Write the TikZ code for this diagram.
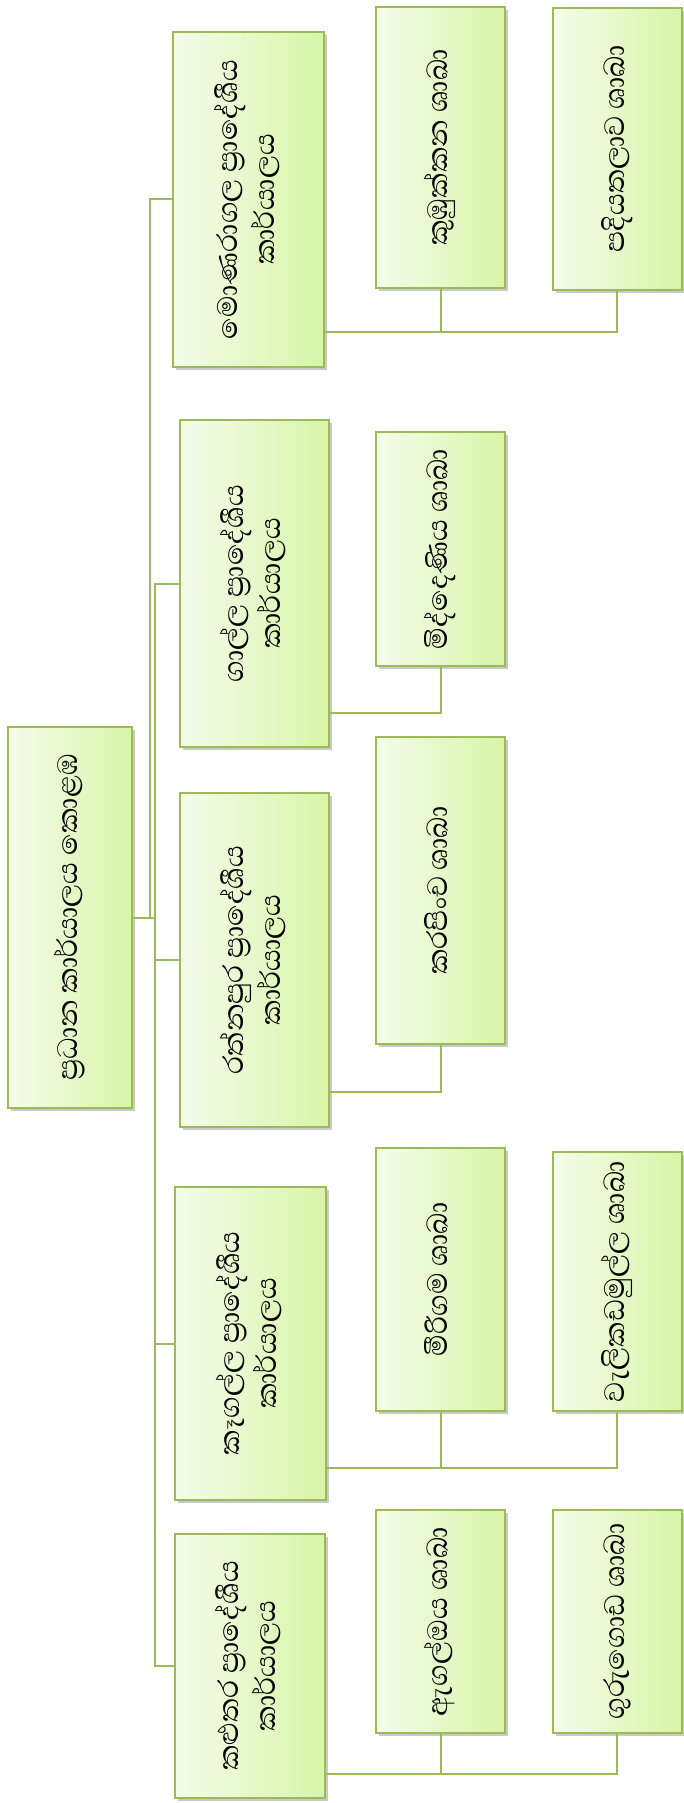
\documentclass[tikz,border=0pt]{standalone}
\usepackage{fontspec}
\newfontfamily\sinhala[Script=Sinhala]{Abhaya Libre}
\usetikzlibrary{shadows}
\definecolor{leafgreen}{RGB}{155,187,89}
\definecolor{paleleft}{RGB}{244,252,235}
\definecolor{paleright}{RGB}{216,245,168}
\tikzset{
  office/.style={draw=leafgreen, line width=2pt, left color=paleleft,
    right color=paleright, inner sep=0pt,
    drop shadow={shadow xshift=3pt, shadow yshift=-3pt, opacity=0.35, fill=black!60},
    font=\sinhala\fontsize{36}{37}\selectfont},
  link/.style={draw=leafgreen, line width=2pt}
}
\newcommand{\sidetext}[1]{\rotatebox{90}{\begin{tabular}{@{}c@{}}#1\end{tabular}}}
\begin{document}
\begin{tikzpicture}[x=1pt, y=-1pt]
  \useasboundingbox (0,0) rectangle (683,1803);
  \pgfmathsetmacro{\colA}{440.5}
  \pgfmathsetmacro{\colB}{617}
  \pgfmathsetmacro{\leafw}{129}
  \node[office, minimum width=124pt, minimum height=381pt] (head)
       at (70, 917.5) {\sidetext{ප්‍රධාන කාර්යාලය කොළඹ}};
  \node[office, minimum width=151pt, minimum height=335pt] (mon)
       at (248.5, 199.5) {\sidetext{මොණරාගල ප්‍රාදේශීය\\කාර්යාලය}};
  \node[office, minimum width=149pt, minimum height=327pt] (gal)
       at (254.5, 583.5) {\sidetext{ගාල්ල ප්‍රාදේශීය\\කාර්යාලය}};
  \node[office, minimum width=149pt, minimum height=334pt] (rat)
       at (254.5, 960) {\sidetext{රත්නපුර ප්‍රාදේශීය\\කාර්යාලය}};
  \node[office, minimum width=151pt, minimum height=313pt] (keg)
       at (250.5, 1343.5) {\sidetext{කෑගල්ල ප්‍රාදේශීය\\කාර්යාලය}};
  \node[office, minimum width=150pt, minimum height=264pt] (kal)
       at (250, 1666) {\sidetext{කළුතර ප්‍රාදේශීය\\කාර්යාලය}};
  \node[office, minimum width=\leafw pt, minimum height=281pt] (kum)
       at (\colA, 147.5) {\sidetext{කුඹුක්කන ශාඛා}};
  \node[office, minimum width=\leafw pt, minimum height=282pt] (pad)
       at (\colB, 149) {\sidetext{පදියතලාව ශාඛා}};
  \node[office, minimum width=\leafw pt, minimum height=234pt] (mid)
       at (\colA, 549) {\sidetext{මිද්දෙණිය ශාඛා}};
  \node[office, minimum width=\leafw pt, minimum height=307pt] (kar)
       at (\colA, 890.5) {\sidetext{කරපිංච ශාඛා}};
  \node[office, minimum width=\leafw pt, minimum height=263pt] (mir)
       at (\colA, 1279.5) {\sidetext{මීරිගම ශාඛා}};
  \node[office, minimum width=\leafw pt, minimum height=259pt] (wel)
       at (\colB, 1281.5) {\sidetext{වැලිකඩමුල්ල ශාඛා}};
  \node[office, minimum width=\leafw pt, minimum height=223pt] (aga)
       at (\colA, 1621.5) {\sidetext{ඇගල්ඔය ශාඛා}};
  \node[office, minimum width=\leafw pt, minimum height=223pt] (gur)
       at (\colB, 1621.5) {\sidetext{ගුරුගොඩ ශාඛා}};
  \coordinate (trunkA) at (150, 917.5);
  \coordinate (trunkB) at (155, 917.5);
  \draw[link] (head.east) -- (trunkA) |- (mon.west);
  \draw[link] (head.east) -- (trunkB) |- (gal.west);
  \draw[link] (head.east) -- (trunkB) |- (rat.west);
  \draw[link] (head.east) -- (trunkB) |- (keg.west);
  \draw[link] (head.east) -- (trunkB) |- (kal.west);
  \draw[link] (mon.east |- 0,332) -| (kum.south);
  \draw[link] (mon.east |- 0,332) -| (pad.south);
  \draw[link] (gal.east |- 0,713) -| (mid.south);
  \draw[link] (rat.east |- 0,1092) -| (kar.south);
  \draw[link] (keg.east |- 0,1468) -| (mir.south);
  \draw[link] (keg.east |- 0,1468) -| (wel.south);
  \draw[link] (kal.east |- 0,1774) -| (aga.south);
  \draw[link] (kal.east |- 0,1774) -| (gur.south);
\end{tikzpicture}
\end{document}
